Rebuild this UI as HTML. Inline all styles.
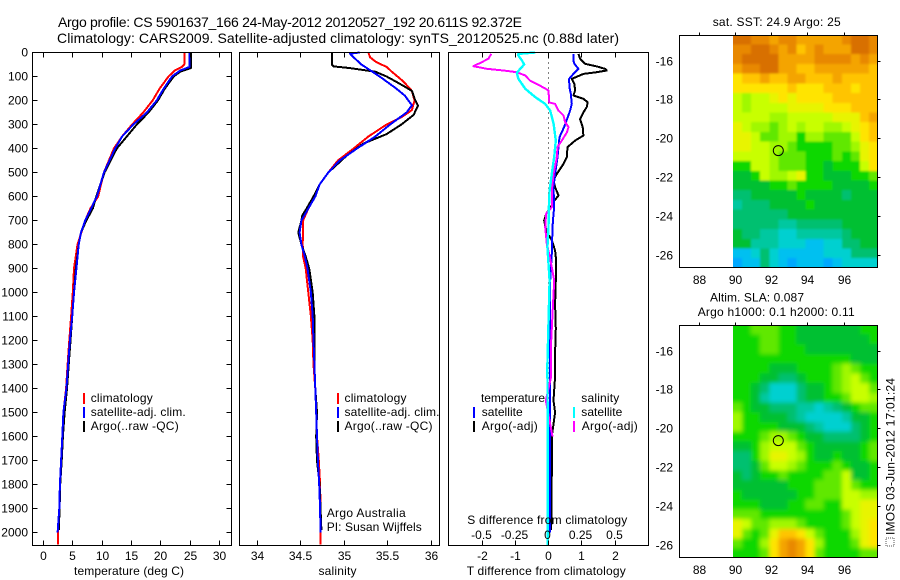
<!DOCTYPE html>
<html>
<head>
<meta charset="utf-8">
<title>Argo profile</title>
<style>
html,body{margin:0;padding:0;background:#fff;}
svg{display:block;}
text{font-family:"Liberation Sans",sans-serif;font-size:12px;fill:#000;}
.title{font-size:14px;}
</style>
</head>
<body>
<svg id="chart" xmlns="http://www.w3.org/2000/svg" width="900" height="580" viewBox="0 0 900 580">
<defs>
<clipPath id="clip-sst"><rect x="733" y="35.5" width="144.5" height="232"/></clipPath>
<clipPath id="clip-sla"><rect x="733" y="325.5" width="144.5" height="232"/></clipPath>
<filter id="smooth-sst" x="0" y="0" width="1" height="1"><feGaussianBlur stdDeviation="1"/></filter>
<filter id="smooth-sla" x="0" y="0" width="1" height="1"><feGaussianBlur stdDeviation="2.2"/></filter>
</defs>
<rect x="0" y="0" width="900" height="580" fill="#fff"/>
<g id="layer-marks"></g>
<g id="layer-axes"></g>

<text class="title" x="58" y="27" textLength="464" lengthAdjust="spacing">Argo profile: CS 5901637_166 24-May-2012 20120527_192 20.611S 92.372E</text>
<text class="title" x="57" y="43" textLength="562" lengthAdjust="spacing">Climatology: CARS2009. Satellite-adjusted climatology: synTS_20120525.nc (0.88d later)</text>

<text x="74" y="575" textLength="110" lengthAdjust="spacing">temperature (deg C)</text>
<text x="318.5" y="575" textLength="38" lengthAdjust="spacing">salinity</text>
<text x="466.7" y="575" textLength="159" lengthAdjust="spacing">T difference from climatology</text>
<text x="467.3" y="524" textLength="160" lengthAdjust="spacing">S difference from climatology</text>

<g>
<rect x="83" y="393" width="2" height="11" fill="#f00"/>
<rect x="83" y="407" width="2" height="11" fill="#00f"/>
<rect x="83" y="421" width="2" height="11" fill="#000"/>
<text x="90.7" y="402" textLength="62" lengthAdjust="spacing">climatology</text>
<text x="90.7" y="416" textLength="95" lengthAdjust="spacing">satellite-adj. clim.</text>
<text x="90.7" y="430" textLength="88" lengthAdjust="spacing">Argo(..raw -QC)</text>
</g>
<g>
<rect x="337" y="393" width="2" height="11" fill="#f00"/>
<rect x="337" y="407" width="2" height="11" fill="#00f"/>
<rect x="337" y="421" width="2" height="11" fill="#000"/>
<text x="344.5" y="402" textLength="62" lengthAdjust="spacing">climatology</text>
<text x="344.5" y="416" textLength="95" lengthAdjust="spacing">satellite-adj. clim.</text>
<text x="344.5" y="430" textLength="88" lengthAdjust="spacing">Argo(..raw -QC)</text>
<text x="326.7" y="517" textLength="79" lengthAdjust="spacing">Argo Australia</text>
<text x="326.7" y="531" textLength="95" lengthAdjust="spacing">PI: Susan Wijffels</text>
</g>
<g>
<text x="481" y="402" textLength="64" lengthAdjust="spacing">temperature</text>
<text x="581.3" y="402" textLength="38" lengthAdjust="spacing">salinity</text>
<rect x="473" y="407" width="2" height="11" fill="#00f"/>
<rect x="473" y="421" width="2" height="11" fill="#000"/>
<rect x="573" y="407" width="2" height="11" fill="#0ff"/>
<rect x="573" y="421" width="2" height="11" fill="#f0f"/>
<text x="481.7" y="416" textLength="41" lengthAdjust="spacing">satellite</text>
<text x="481.7" y="430" textLength="56" lengthAdjust="spacing">Argo(-adj)</text>
<text x="581.3" y="416" textLength="41" lengthAdjust="spacing">satellite</text>
<text x="581.7" y="430" textLength="56" lengthAdjust="spacing">Argo(-adj)</text>
</g>

<text x="712.7" y="26" textLength="128" lengthAdjust="spacing">sat. SST: 24.9 Argo: 25</text>
<text x="710" y="301.5" textLength="94" lengthAdjust="spacing">Altim. SLA: 0.087</text>
<text x="697.7" y="316" textLength="157" lengthAdjust="spacing">Argo h1000: 0.1 h2000: 0.11</text>

<rect x="886" y="538" width="8" height="8" fill="none" stroke="#555" stroke-width="1" stroke-dasharray="1 1"/>
<text transform="translate(894.5,535) rotate(-90)" x="0" y="0" textLength="157" lengthAdjust="spacing">IMOS 03-Jun-2012 17:01:24</text>
</svg>

<script>
// ---- profile data: depth (m) and value arrays ----
const depthTicks = [0,100,200,300,400,500,600,700,800,900,1000,1100,1200,1300,1400,1500,1600,1700,1800,1900,2000];
const tempTicks = [0,5,10,15,20,25,30];
const salTicks = [34,34.5,35,35.5,36];
const salTickLabels = ['34','34.5','35','35.5','36'];
const tDiffTicks = [-2,-1,0,1,2];
const sDiffTicks = [-0.5,-0.25,0,0.25,0.5];
const sDiffTickLabels = ['-0.5','-0.25','0','0.25','0.5'];
const lonTicks = [88,90,92,94,96];
const latTicks = [-16,-18,-20,-22,-24,-26];

const tempClimDepth = [0,50,60,75,100,150,200,250,300,350,400,500,600,650,700,800,900,1000,1100,1200,1300,1400,1500,1600,1700,1800,1900,2000,2050];
const tempClim = [24,24,23.6,22.4,21.3,19.8,18.6,17,15.1,13.4,12,10.3,9.3,8,7.1,5.8,5.2,5,4.7,4.4,4.1,3.85,3.4,3.2,3,2.85,2.7,2.45,2.45];
const tempArgoDepth = [0,65,80,100,150,200,250,300,350,400,500,600,650,700,750,800,900,1000,1100,1200,1300,1400,1500,1600,1700,1800,1900,1990];
const tempArgo = [25.1,25.1,23.3,22.2,20.7,19.5,17.9,15.9,14.2,12.5,10.4,9,8.4,7.3,6.4,6,5.5,5.2,4.9,4.6,4.3,4,3.6,3.3,3.1,2.85,2.75,2.6];
const tempSatDepth = [0,60,75,100,150,200,250,300,350,400,500,600,700,750,800,900,1000,1100,1200,1300,1400,1500,1600,1700,1800,1900,2000];
const tempSat = [24.9,24.9,23.3,21.9,20.5,19.3,17.6,15.3,13.4,12.2,10.3,9.1,7.1,6.4,6,5.6,5.2,4.9,4.5,4.2,3.9,3.4,3.2,3,2.8,2.7,2.4];

const salClimDepth = [0,20,40,60,80,120,160,200,240,270,300,350,400,450,500,550,600,650,700,800,850,900,1000,1100,1200,1300,1400,1500,1600,1700,1800,1900,2000,2050];
const salClim = [35.28,35.3,35.37,35.49,35.55,35.68,35.78,35.81,35.78,35.66,35.49,35.28,35.11,34.93,34.82,34.72,34.65,34.59,34.53,34.525,34.53,34.56,34.59,34.62,34.64,34.65,34.67,34.68,34.69,34.71,34.725,34.73,34.73,34.73];
const salArgoDepth = [0,50,58,65,80,100,130,160,200,222,260,300,340,380,430,500,550,600,650,680,700,750,800,850,900,1000,1100,1200,1300,1400,1500,1600,1700,1800,1900,1990];
const salArgo = [34.86,34.86,34.88,35.07,35.36,35.49,35.64,35.78,35.82,35.85,35.8,35.66,35.49,35.22,35.03,34.82,34.72,34.65,34.57,34.52,34.51,34.475,34.51,34.56,34.6,34.64,34.66,34.66,34.66,34.67,34.69,34.68,34.69,34.72,34.73,34.74];
const salSatDepth = [0,5,20,50,100,150,180,220,250,300,350,400,450,500,550,600,650,700,750,800,850,900,1000,1100,1200,1300,1400,1500,1600,1700,1800,1900,2000];
const salSat = [35.18,35.07,35.11,35.2,35.41,35.6,35.7,35.78,35.72,35.53,35.36,35.15,34.95,34.82,34.72,34.67,34.59,34.51,34.49,34.51,34.55,34.58,34.62,34.64,34.65,34.66,34.67,34.68,34.69,34.7,34.715,34.725,34.73];

const tDiffArgoDepth = [6,26,47,58,68,75,82,89,110,131,158,179,193,207,228,249,278,311,346,367,394,436,464,506,533,561,596,622,644,672,700,742,783,825,853,950,1050,1150,1250,1350,1450,1500,1600,1750,1990];
const tDiffArgo = [0.9,0.95,1.1,1.45,1.7,1.75,1.45,1.05,0.7,0.78,0.8,0.75,1.05,1.18,1.15,1.05,0.95,1.03,1.05,0.8,0.57,0.55,0.45,0.25,0.15,0.2,0.3,0.15,0.07,-0.07,-0.13,-0.07,0.1,0.2,0.22,0.22,0.2,0.22,0.2,0.2,0.15,0.2,0.1,0.1,0.08];
const tDiffSatDepth = [6,33,47,68,89,110,144,172,214,242,269,311,353,394,436,506,561,644,672,728,839,950,1200,1500,2000];
const tDiffSat = [0.75,0.75,0.78,0.9,0.75,0.62,0.63,0.67,0.7,0.65,0.58,0.47,0.33,0.3,0.27,0.2,0.15,0.17,0.15,0.12,0.1,0.05,0.05,0.05,0.05];
const sDiffArgoDepth = [6,26,40,57,68,75,82,96,117,131,158,208,214,242,262,290,311,333,367,394,436,506,575,644,672,728,797,839,894,950,1200,1350,1450,1600];
const sDiffArgo = [-0.431,-0.451,-0.501,-0.564,-0.464,-0.338,-0.238,-0.175,-0.138,-0.088,0,0.005,0.05,0.075,0.113,0.125,0.15,0.138,0.1,0.068,0.063,0.038,0.025,0.025,-0.018,-0.025,-0.013,0.005,0.025,0.043,0.02,0.02,-0.02,0.03];
const sDiffSatDepth = [0,6,13,33,50,68,85,110,131,151,186,214,242,297,367,436,506,575,644,728,811,950,1300,1700,2055];
const sDiffSat = [-0.1,-0.226,-0.226,-0.2,-0.183,-0.213,-0.238,-0.226,-0.2,-0.175,-0.1,-0.025,0.013,0.038,0.055,0.043,0.025,0.008,0.003,0,-0.008,0.008,-0.008,-0.005,-0.005];

// ---- map data: colour class per half-degree cell ----
const sstGrid = [
[0,0,1,1,2,1,1,2,2,2,2,2,1,0,0,1],
[1,1,0,0,1,2,1,3,2,1,2,2,2,0,0,1],
[1,0,0,0,0,2,2,2,2,1,1,1,1,2,1,2],
[2,1,1,0,0,2,2,3,3,2,2,2,2,2,2,3],
[4,3,3,2,3,3,2,2,3,3,3,2,3,3,3,3],
[4,4,4,4,4,4,3,4,4,4,3,3,3,4,3,3],
[6,7,6,6,5,4,5,4,4,4,4,3,3,3,3,3],
[6,7,6,6,6,6,5,5,5,5,4,4,4,3,3,3],
[6,6,6,6,7,7,6,6,6,6,6,5,5,5,3,2],
[5,6,7,7,8,7,6,7,6,6,7,7,6,5,4,3],
[5,5,6,8,8,7,7,9,7,7,8,8,8,6,4,3],
[5,5,6,6,7,7,8,9,9,9,9,8,8,7,5,4],
[6,6,6,6,7,8,8,8,9,9,9,8,9,8,5,4],
[9,9,6,6,7,8,8,8,9,9,10,9,9,9,6,4],
[10,10,9,6,7,7,6,5,9,9,10,10,10,9,9,8],
[10,10,10,10,9,9,8,9,9,9,9,10,10,10,10,9],
[11,11,10,10,10,10,10,9,10,10,10,10,11,10,10,10],
[12,11,11,11,10,10,10,10,9,10,10,10,10,10,10,10],
[11,11,11,11,11,11,10,10,10,10,10,10,10,10,10,10],
[11,11,11,11,11,12,12,11,11,11,11,11,10,10,10,10],
[10,11,11,12,12,13,13,12,12,12,12,12,11,10,10,10],
[10,10,12,12,12,13,13,13,14,14,13,13,11,11,10,10],
[14,14,13,11,13,14,14,14,14,14,13,13,13,11,11,11],
[15,14,14,11,13,14,15,14,14,14,15,14,13,13,13,13]
];
const slaGrid = [
[9,9,8,8,8,9,9,10,10,10,10,10,10,10,9,9],
[9,9,9,8,8,9,9,10,10,10,10,10,10,10,10,9],
[9,9,9,8,8,9,9,9,10,10,10,10,10,10,10,10],
[9,9,9,9,9,9,9,9,9,9,9,9,9,10,10,10],
[9,9,9,9,10,10,10,9,9,9,9,8,7,8,9,9],
[9,9,9,10,10,11,11,10,9,9,9,8,7,6,8,9],
[9,9,10,11,13,13,13,11,10,10,9,8,7,6,6,8],
[9,9,10,12,13,13,13,11,10,10,9,9,8,6,6,7],
[8,9,10,10,11,11,11,12,12,13,12,11,10,9,8,8],
[7,9,9,10,10,10,11,12,13,13,13,13,12,10,10,9],
[7,9,9,9,9,10,10,10,11,12,13,13,13,11,10,9],
[9,9,9,8,7,7,8,9,10,10,11,11,11,11,10,9],
[10,10,9,7,6,6,6,8,9,10,10,10,10,10,9,8],
[11,11,9,7,5,5,6,7,9,10,10,9,10,10,9,8],
[11,11,10,8,6,6,7,8,9,9,9,8,9,10,10,9],
[10,11,10,9,9,8,9,9,9,9,8,8,6,10,10,9],
[10,10,10,10,10,10,9,9,9,8,8,8,6,8,9,9],
[9,10,10,10,10,10,10,9,9,8,8,8,6,6,7,7],
[9,9,9,10,10,10,9,9,8,8,9,9,6,6,5,5],
[8,8,8,9,9,9,9,9,9,9,9,9,8,6,5,5],
[5,6,8,8,7,7,7,8,9,9,9,9,8,6,5,4],
[5,8,9,8,5,3,3,4,6,8,9,9,9,7,5,4],
[8,9,9,7,4,2,1,2,4,7,9,9,9,8,5,4],
[9,9,9,8,4,2,1,2,4,8,9,9,9,9,8,8]
];
const profileLon = 92.372;
const profileLat = -20.611;

// ---- colour classes ----
const classColors = ['#d87000','#e88800','#f4a400','#ffc400','#ffe400','#e8f400','#c8ff00','#a0f800','#60e800','#10d800','#00c030','#00c070','#00c8a0','#00d0d0','#00c0f0','#00a8ff'];

// ---- axis functions ----
const yDepth = d => 52.5 + d * 0.24;
const xTemp = t => 43.5 + t * 5.867;
const xSal = s => 257 + (s - 34) * 87;
const xTDiff = t => 548.5 + t * 33.25;
const xSDiff = s => 548.5 + s * 133;
const xLon = lon => 735.3 + (lon - 90) * 18.125;
const yLatTop = lat => 61 + (-16 - lat) * 19.43;
const yLatBottom = lat => 351 + (-16 - lat) * 19.43;

const NS = 'http://www.w3.org/2000/svg';
const marks = document.getElementById('layer-marks');
const axes = document.getElementById('layer-axes');

function line(parent, x1, y1, x2, y2) {
  const el = document.createElementNS(NS, 'line');
  el.setAttribute('x1', x1);
  el.setAttribute('y1', y1);
  el.setAttribute('x2', x2);
  el.setAttribute('y2', y2);
  el.setAttribute('stroke', '#000');
  el.setAttribute('stroke-width', '1');
  el.setAttribute('shape-rendering', 'crispEdges');
  
  
  parent.appendChild(el);
  return el;
}
function label(parent, str, x, y, anchor) {
  const el = document.createElementNS(NS, 'text');
  el.setAttribute('x', x);
  el.setAttribute('y', y);
  el.setAttribute('text-anchor', anchor);
  el.textContent = str;
  
  
  parent.appendChild(el);
  return el;
}
function frame(x, y, w, h) {
  const el = document.createElementNS(NS, 'rect');
  el.setAttribute('x', x);
  el.setAttribute('y', y);
  el.setAttribute('width', w);
  el.setAttribute('height', h);
  el.setAttribute('fill', 'none');
  el.setAttribute('stroke', '#000');
  el.setAttribute('stroke-width', '1');
  el.setAttribute('shape-rendering', 'crispEdges');
  
  
  axes.appendChild(el);
}
function profile(depths, values, xFn, color, width, name) {
  const el = document.createElementNS(NS, 'polyline');
  const pts = depths.map((d, i) => xFn(values[i]).toFixed(1) + ',' + yDepth(d).toFixed(1)).join(' ');
  el.setAttribute('points', pts);
  el.setAttribute('fill', 'none');
  el.setAttribute('stroke', color);
  el.setAttribute('stroke-width', width);
  el.setAttribute('stroke-linejoin', 'round');
  el.setAttribute('shape-rendering', 'crispEdges');
  
  
  marks.appendChild(el);
}
function heatmap(grid, yFn, name, clipId, filterId) {
  const outer = document.createElementNS(NS, 'g');
  outer.setAttribute('clip-path', 'url(#' + clipId + ')');
  
  
  const g = document.createElementNS(NS, 'g');
  g.setAttribute('filter', 'url(#' + filterId + ')');
  
  
  const lon0 = 89.875, lat0 = -14.65, step = 0.5, bleed = 12;
  const lastRow = grid.length - 1;
  grid.forEach((row, r) => {
    const lastCol = row.length - 1;
    row.forEach((v, c) => {
      const cell = document.createElementNS(NS, 'rect');
      // outer cells bleed past the clip so smoothing keeps a sharp map edge
      const x1 = xLon(lon0 + c * step) - (c === 0 ? bleed : 0);
      const x2 = xLon(lon0 + (c + 1) * step) + (c === lastCol ? bleed : 0);
      const y1 = yFn(lat0 - r * step) - (r === 0 ? bleed : 0);
      const y2 = yFn(lat0 - (r + 1) * step) + (r === lastRow ? bleed : 0);
      cell.setAttribute('x', x1.toFixed(2));
      cell.setAttribute('y', y1.toFixed(2));
      cell.setAttribute('width', (x2 - x1 + 0.3).toFixed(2));
      cell.setAttribute('height', (y2 - y1 + 0.3).toFixed(2));
      cell.setAttribute('fill', classColors[v]);
      cell.setAttribute('shape-rendering', 'crispEdges');
      
      
      g.appendChild(cell);
    });
  });
  outer.appendChild(g);
  marks.appendChild(outer);
}
function marker(yFn) {
  const el = document.createElementNS(NS, 'circle');
  el.setAttribute('cx', xLon(profileLon).toFixed(1));
  el.setAttribute('cy', yFn(profileLat).toFixed(1));
  el.setAttribute('r', '5');
  el.setAttribute('fill', 'none');
  el.setAttribute('stroke', '#000');
  el.setAttribute('stroke-width', '1');
  
  
  marks.appendChild(el);
}

// ---- profile panels ----
profile(tempClimDepth, tempClim, xTemp, '#f00', 2, 'temperature-climatology-line');
profile(tempArgoDepth, tempArgo, xTemp, '#000', 2, 'temperature-argo-line');
profile(tempSatDepth, tempSat, xTemp, '#00f', 2, 'temperature-satellite-line');
profile(salClimDepth, salClim, xSal, '#f00', 2, 'salinity-climatology-line');
profile(salArgoDepth, salArgo, xSal, '#000', 2, 'salinity-argo-line');
profile(salSatDepth, salSat, xSal, '#00f', 2, 'salinity-satellite-line');

const zeroLine = document.createElementNS(NS, 'line');
zeroLine.setAttribute('x1', xTDiff(0));
zeroLine.setAttribute('x2', xTDiff(0));
zeroLine.setAttribute('y1', 52.5);
zeroLine.setAttribute('y2', 545.5);
zeroLine.setAttribute('stroke', '#000');
zeroLine.setAttribute('stroke-width', '1');
zeroLine.setAttribute('stroke-dasharray', '1 4');


marks.appendChild(zeroLine);

profile(tDiffArgoDepth, tDiffArgo, xTDiff, '#000', 2, 't-difference-argo-line');
profile(tDiffSatDepth, tDiffSat, xTDiff, '#00f', 2, 't-difference-satellite-line');
profile(sDiffArgoDepth, sDiffArgo, xSDiff, '#f0f', 2, 's-difference-argo-line');
profile(sDiffSatDepth, sDiffSat, xSDiff, '#0ff', 2.4, 's-difference-satellite-line');

// ---- maps ----
heatmap(sstGrid, yLatTop, 'sst-heatmap', 'clip-sst', 'smooth-sst');
heatmap(slaGrid, yLatBottom, 'sla-heatmap', 'clip-sla', 'smooth-sla');
marker(yLatTop);
marker(yLatBottom);

// ---- frames ----
frame(32.5, 52.5, 199, 493);
frame(239.5, 52.5, 200, 493);
frame(448.5, 52.5, 200, 493);
frame(679.5, 35.5, 198, 232);
frame(679.5, 325.5, 198, 232);

// ---- ticks: temperature panel ----
depthTicks.forEach(d => {
  const y = Math.round(yDepth(d) - 0.5) + 0.5;
  line(axes, 32.5, y, 37.5, y);
  line(axes, 226.5, y, 231.5, y);
  label(axes, String(d), 28, y + 4, 'end');
});
tempTicks.forEach(t => {
  const x = Math.round(xTemp(t) - 0.5) + 0.5;
  line(axes, x, 52.5, x, 57.5);
  line(axes, x, 540.5, x, 545.5);
  label(axes, String(t), x, 560, 'middle');
});
// ---- ticks: salinity panel ----
salTicks.forEach((s, i) => {
  const x = Math.round(xSal(s) - 0.5) + 0.5;
  line(axes, x, 52.5, x, 57.5);
  line(axes, x, 540.5, x, 545.5);
  label(axes, salTickLabels[i], x, 560, 'middle');
});
// ---- ticks: difference panel ----
tDiffTicks.forEach(t => {
  const x = Math.round(xTDiff(t) - 0.5) + 0.5;
  line(axes, x, 540.5, x, 545.5);
  label(axes, String(t), x, 560, 'middle');
});
sDiffTicks.forEach((s, i) => {
  const x = Math.round(xSDiff(s) - 0.5) + 0.5;
  line(axes, x, 52.5, x, 57.5);
  label(axes, sDiffTickLabels[i], x - 1, 539, 'middle');
});
// ---- ticks: maps ----
lonTicks.forEach(lon => {
  const x = Math.round(xLon(lon) - 0.5) + 0.5;
  line(axes, x, 32.5, x, 35.5);
  line(axes, x, 322.5, x, 325.5);
  label(axes, String(lon), x, 284, 'middle');
  label(axes, String(lon), x, 574, 'middle');
});
latTicks.forEach(lat => {
  const y1 = Math.round(yLatTop(lat) - 0.5) + 0.5;
  const y2 = Math.round(yLatBottom(lat) - 0.5) + 0.5;
  line(axes, 877.5, y1, 880.5, y1);
  line(axes, 877.5, y2, 880.5, y2);
  label(axes, String(lat), 673, y1 + 4, 'end');
  label(axes, String(lat), 673, y2 + 4, 'end');
});
</script>
</body>
</html>
